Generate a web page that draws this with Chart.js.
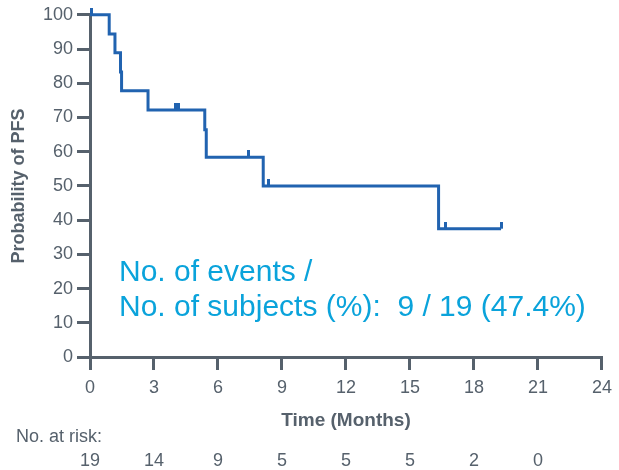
<!DOCTYPE html>
<html>
<head>
<meta charset="utf-8">
<script src="https://cdn.jsdelivr.net/npm/chart.js@4/dist/chart.umd.min.js"></script>
<style>
  html, body { margin: 0; padding: 0; background: #fff; }
  #wrap { width: 619px; height: 470px; }
</style>
</head>
<body>
<div id="wrap"><canvas id="km"></canvas></div>
<script>
// Kaplan-Meier step points (time in months, PFS %)
const stepTimes = [0, 0.9, 1.17, 1.43, 1.48, 2.72, 5.38, 5.45, 8.12, 16.34, 19.27];
const stepValues = [100, 94.4, 88.9, 83.3, 77.8, 72.2, 66.4, 58.4, 50.0, 37.5, 37.5];

// censored observations
const censorTimes = [0.05, 4.01, 4.15, 7.42, 8.37, 16.65, 19.27];
const censorValues = [100, 72.2, 72.2, 58.4, 50.0, 37.5, 37.5];

const xTicks = [0, 3, 6, 9, 12, 15, 18, 21, 24];
const atRiskTimes = [0, 3, 6, 9, 12, 15, 18, 21];
const atRisk = [19, 14, 9, 5, 5, 5, 2, 0];

const eventsLabel = ["No. of events /", "No. of subjects (%):  9 / 19 (47.4%)"];

const lineColor = "#2163b0";
const axisColor = "#56616c";
const textColor = "#56616c";
const noteColor = "#0aa3db";
const font = "'Liberation Sans', Arial, sans-serif";

// censor mark: short vertical tick sitting on top of the line
function censorMark() {
  const c = document.createElement("canvas");
  c.width = 3;
  c.height = 14;
  const g = c.getContext("2d");
  g.fillStyle = lineColor;
  g.fillRect(0, 0, 3, 7);
  return c;
}

const riskTable = {
  id: "riskTable",
  afterDraw(chart) {
    const ctx = chart.ctx;
    const x = chart.scales.x;
    ctx.save();
    ctx.fillStyle = textColor;
    ctx.font = "18px " + font;
    ctx.textBaseline = "middle";
    ctx.textAlign = "left";
    ctx.fillText("No. at risk:", 16, 437);
    ctx.textAlign = "center";
    atRisk.forEach((n, i) => {
      ctx.fillText(String(n), x.getPixelForValue(atRiskTimes[i]), 461);
    });

    ctx.fillStyle = noteColor;
    ctx.font = "30px " + font;
    ctx.textAlign = "left";
    ctx.fillText(eventsLabel[0], 119, 273);
    ctx.fillText(eventsLabel[1], 119, 308);
    ctx.restore();
  }
};

const ctx = document.getElementById("km").getContext("2d");

new Chart(ctx, {
  type: "line",
  data: {
    datasets: [{
      label: "PFS",
      data: stepTimes.map((t, i) => ({ x: t, y: stepValues[i] })),
      borderColor: lineColor,
      borderWidth: 3,
      stepped: true,
      pointRadius: 0,
      fill: false,
      clip: false
    }, {
      label: "Censored",
      type: "scatter",
      data: censorTimes.map((t, i) => ({ x: t, y: censorValues[i] })),
      pointStyle: censorMark(),
      pointRadius: 4,
      clip: false
    }]
  },
  options: {
    responsive: true,
    maintainAspectRatio: false,
    animation: false,
    layout: { padding: { top: 13, right: 15, bottom: 38, left: 0 } },
    plugins: {
      legend: { display: false },
      tooltip: { enabled: false }
    },
    scales: {
      x: {
        type: "linear",
        min: 0,
        max: 24,
        afterBuildTicks: (s) => { s.ticks = xTicks.map(v => ({ value: v })); },
        afterFit: (s) => { s.height = 75; },
        grid: {
          drawOnChartArea: false,
          drawTicks: true,
          tickLength: 13,
          tickColor: axisColor,
          lineWidth: 3
        },
        border: { display: true, color: axisColor, width: 3 },
        ticks: {
          color: textColor,
          font: { family: font, size: 18 },
          padding: 7,
          maxRotation: 0
        },
        title: {
          display: true,
          text: "Time (Months)",
          color: textColor,
          font: { family: font, size: 19, weight: "bold" },
          padding: { top: 0, bottom: 0 }
        }
      },
      y: {
        min: 0,
        max: 100,
        ticks: {
          stepSize: 10,
          color: textColor,
          font: { family: font, size: 18 },
          padding: 4
        },
        afterFit: (s) => { s.width = 90; },
        grid: {
          drawOnChartArea: false,
          drawTicks: true,
          tickLength: 13,
          tickColor: axisColor,
          lineWidth: 3
        },
        border: { display: true, color: axisColor, width: 3 },
        title: {
          display: true,
          text: "Probability of PFS",
          color: textColor,
          font: { family: font, size: 18, weight: "bold" },
          padding: { top: 8, bottom: 0 }
        }
      }
    }
  },
  plugins: [riskTable]
});
</script>
</body>
</html>
